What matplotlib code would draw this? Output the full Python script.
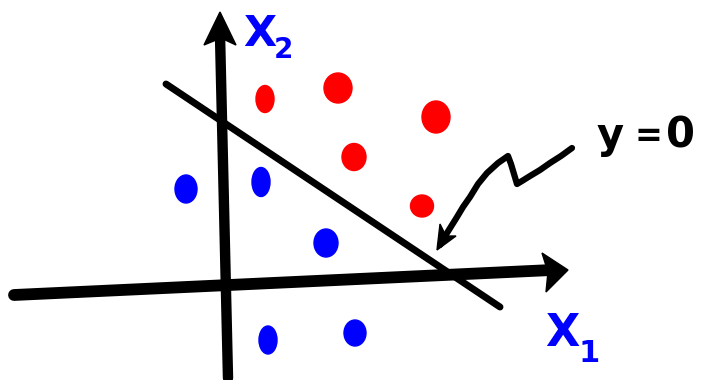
import matplotlib
matplotlib.use("Agg")
import matplotlib.pyplot as plt
from matplotlib.patches import Ellipse, Polygon

# Sketch coordinates (pixel-like space, y grows downward)
red_x1 = [265, 338, 436, 354, 422]
red_x2 = [99, 88, 117, 157, 206]
red_w = [18, 28, 28, 24, 23]
red_h = [27, 30, 32, 27, 22]

blue_x1 = [186, 261, 326, 268, 355]
blue_x2 = [189, 182, 243, 340, 333]
blue_w = [22, 18, 24, 18, 22]
blue_h = [28, 29, 28, 28, 26]

# decision boundary y = 0
boundary_x = [166, 500]
boundary_y = [84, 307]

# axes strokes
x1_axis_x = [14, 552]
x1_axis_y = [295, 270]
x2_axis_x = [228, 220]
x2_axis_y = [378, 35]

# pointer from the "y=0" note to the boundary
pointer_x = [572, 561, 550, 540, 530, 522, 517, 514, 511, 508,
             498, 487, 478, 470, 463, 457, 447, 440]
pointer_y = [148, 156, 163, 170, 176, 181, 184, 174, 164, 156,
             163, 173, 184, 197, 207, 217, 233, 245]

W, H = 703, 380
fig = plt.figure(figsize=(W / 100, H / 100), dpi=100)
ax = fig.add_axes([0, 0, 1, 1])
ax.set_xlim(0, W)
ax.set_ylim(H, 0)
ax.axis("off")

ink = "black"
ax.plot(x1_axis_x, x1_axis_y, color=ink, lw=8.5, solid_capstyle="round")
ax.plot(x2_axis_x, x2_axis_y, color=ink, lw=7.5, solid_capstyle="round")
ax.add_patch(Polygon([[542, 253], [568, 270], [546, 292], [548, 272]],
                     closed=True, color=ink))
ax.add_patch(Polygon([[204, 45], [220, 12], [236, 45], [221, 38]],
                     closed=True, color=ink))

ax.plot(boundary_x, boundary_y, color=ink, lw=5, solid_capstyle="round")

ax.plot(pointer_x, pointer_y, color=ink, lw=4.5, solid_capstyle="round",
        solid_joinstyle="round")
ax.add_patch(Polygon([[437, 250], [440, 224], [446, 236], [456, 236]],
                     closed=True, color=ink))

for x, y, w, h in zip(red_x1, red_x2, red_w, red_h):
    ax.add_patch(Ellipse((x, y), w, h, color="#ff0000"))
for x, y, w, h in zip(blue_x1, blue_x2, blue_w, blue_h):
    ax.add_patch(Ellipse((x, y), w, h, color="#0000ff"))

blue = "#0000ff"
ax.text(243, 46, "X", color=blue, fontsize=31, fontweight="bold",
        ha="left", va="baseline")
ax.text(274, 58, "2", color=blue, fontsize=20, fontweight="bold",
        ha="left", va="baseline")
ax.text(545, 346, "X", color=blue, fontsize=32, fontweight="bold",
        ha="left", va="baseline")
ax.text(578, 362, "1", color=blue, fontsize=22, fontweight="bold",
        ha="left", va="baseline")
ax.text(597, 148, "y", color=ink, fontsize=30, fontweight="bold",
        ha="left", va="baseline")
ax.text(634, 146, "=", color=ink, fontsize=24, fontweight="bold",
        ha="left", va="baseline")
ax.text(666, 148, "0", color=ink, fontsize=30, fontweight="bold",
        ha="left", va="baseline")

fig.savefig("out.png", dpi=100, facecolor="white")
